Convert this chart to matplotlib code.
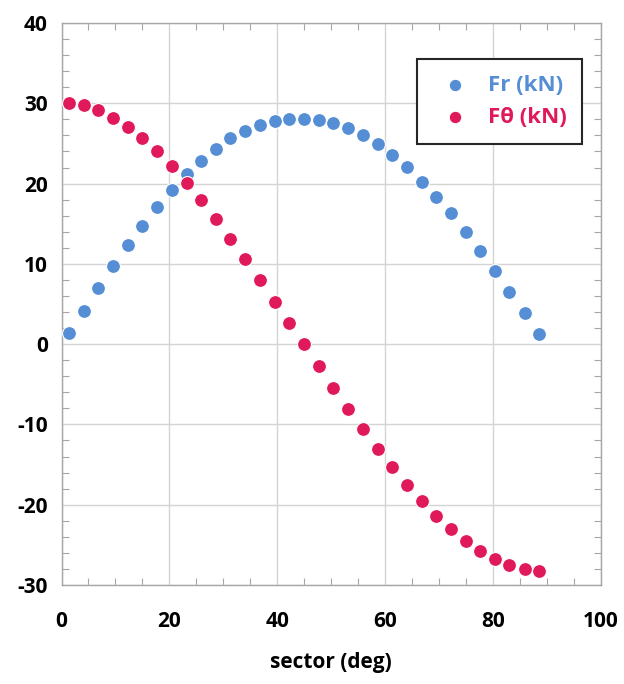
import matplotlib
matplotlib.use("Agg")
import matplotlib.pyplot as plt
from matplotlib.ticker import MultipleLocator

plt.rcParams['font.family'] = ['Open Sans', 'DejaVu Sans']
plt.rcParams['axes.unicode_minus'] = False

# sector angle (deg) of each point
sector = [1.4, 4.1, 6.8, 9.6, 12.3, 15.0, 17.7, 20.5, 23.2, 25.9, 28.6,
          31.3, 34.1, 36.8, 39.5, 42.2, 45.0, 47.7, 50.4, 53.1, 55.9, 58.6,
          61.3, 64.0, 66.8, 69.5, 72.2, 74.9, 77.6, 80.3, 83.0, 85.9, 88.6]

fr = [1.35, 4.18, 7.0, 9.74, 12.31, 14.76, 17.04, 19.16, 21.15, 22.81, 24.35,
      25.64, 26.59, 27.3, 27.8, 28.04, 28.04, 27.92, 27.55, 26.88, 26.05, 24.89,
      23.6, 22.07, 20.24, 18.37, 16.3, 14.01, 11.65, 9.16, 6.54, 3.93, 1.27]

ftheta = [30.08, 29.75, 29.17, 28.21, 27.05, 25.64, 24.02, 22.19, 20.07, 17.92,
          15.55, 13.1, 10.61, 8.0, 5.3, 2.6, 0.0, -2.76, -5.41, -8.03, -10.6,
          -13.01, -15.33, -17.49, -19.53, -21.35, -23.05, -24.51, -25.71,
          -26.75, -27.5, -28.0, -28.2]

blue = "#558ED5"
red = "#E0195A"

fig = plt.figure(figsize=(6.24, 6.84), dpi=100)
ax = fig.add_axes([0.0986, 0.1447, 0.8644, 0.8217])

ax.scatter(sector, fr, s=100, color=blue, edgecolors="white", linewidths=0.8,
           zorder=3, label="Fr (kN)")
ax.scatter(sector, ftheta, s=100, color=red, edgecolors="white", linewidths=0.8,
           zorder=3, label="F\u03b8 (kN)")

ax.set_xlim(0, 100)
ax.set_ylim(-30, 40)
ax.xaxis.set_major_locator(MultipleLocator(20))
ax.xaxis.set_minor_locator(MultipleLocator(5))
ax.yaxis.set_major_locator(MultipleLocator(10))
ax.yaxis.set_minor_locator(MultipleLocator(2))

ax.grid(True, which="major", color="#d4d4d4", linewidth=1.0, zorder=0)
ax.set_axisbelow(True)

for sp in ax.spines.values():
    sp.set_color("#a6a6a6")
    sp.set_linewidth(1.0)

ax.tick_params(which="both", direction="in", top=True, right=True,
               color="#a6a6a6")
ax.tick_params(which="major", length=0)
ax.tick_params(which="minor", length=5, width=0.8)
ax.tick_params(axis="x", which="major", pad=19, labelsize=15)
ax.tick_params(axis="y", which="major", pad=10, labelsize=15)
for lab in ax.get_xticklabels() + ax.get_yticklabels():
    lab.set_fontweight("bold")

ax.set_xlabel("sector (deg)", fontsize=15, fontweight="bold", labelpad=14)

leg = ax.legend(loc="upper left", bbox_to_anchor=(0.659, 0.936),
                frameon=True, fancybox=False, fontsize=16, markerscale=0.9,
                handlelength=2.03, handletextpad=0.47, borderpad=0.7,
                labelspacing=0.52, borderaxespad=0)
leg.get_frame().set_edgecolor("#262626")
leg.get_frame().set_linewidth(1.5)
leg.get_frame().set_alpha(1)
for txt, c in zip(leg.get_texts(), [blue, red]):
    txt.set_color(c)
    txt.set_fontweight("bold")

fig.savefig("out.png", dpi=100)
